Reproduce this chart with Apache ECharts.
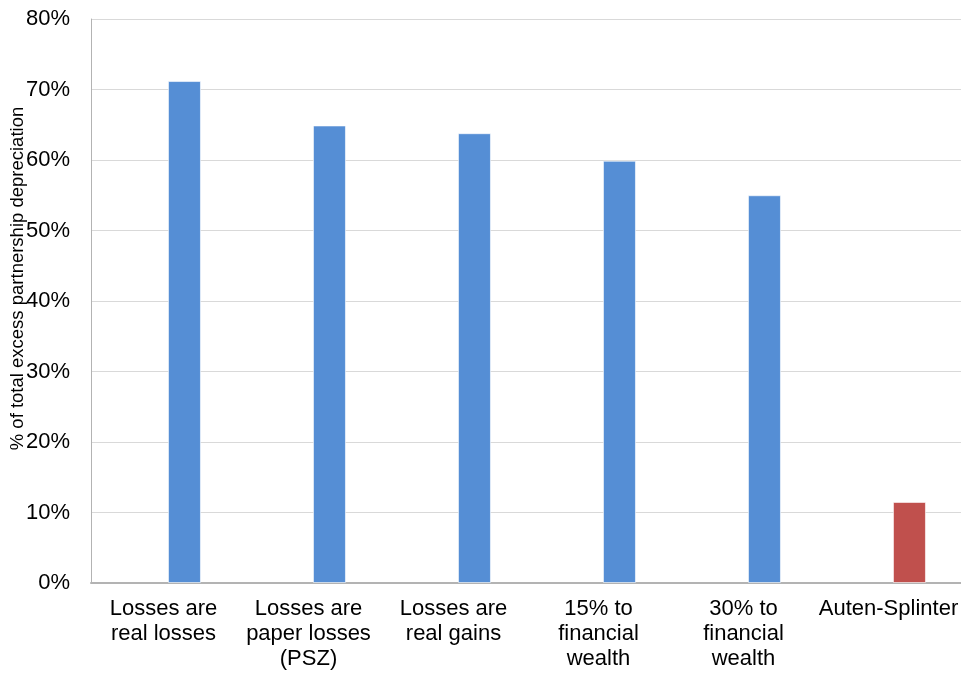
<!DOCTYPE html>
<html>
<head>
<meta charset="utf-8">
<script src="https://cdn.jsdelivr.net/npm/echarts@6/dist/echarts.min.js"></script>
<style>
  html, body { margin: 0; padding: 0; background: #fff; }
  #chart { width: 961px; height: 673px; }
</style>
</head>
<body>
<div id="chart"></div>
<script>
const categories = [
  "Losses are\nreal losses",
  "Losses are\npaper losses\n(PSZ)",
  "Losses are\nreal gains",
  "15% to\nfinancial\nwealth",
  "30% to\nfinancial\nwealth",
  "Auten-Splinter"
];
const shares = [71.2, 64.9, 63.8, 59.9, 55.0, 11.5];
const barColors = ["#558ed5", "#558ed5", "#558ed5", "#558ed5", "#558ed5", "#c0504d"];
const yTicks = [0, 10, 20, 30, 40, 50, 60, 70, 80];

const chart = echarts.init(document.getElementById("chart"), null, { renderer: "canvas" });

const font = "'Liberation Sans', Arial, sans-serif";

chart.setOption({
  animation: false,
  grid: {
    left: 91, right: 0, top: 19, bottom: 90,
    containLabel: false,
    outerBoundsMode: "none"
  },
  xAxis: {
    type: "category",
    data: categories,
    axisLine: { show: true, lineStyle: { color: "#b3b3b3", width: 2 } },
    axisTick: { show: false },
    axisLabel: {
      color: "#000",
      fontFamily: font,
      fontSize: 22,
      lineHeight: 25,
      margin: 13,
      interval: 0
    }
  },
  yAxis: {
    type: "value",
    min: yTicks[0],
    max: yTicks[yTicks.length - 1],
    interval: 10,
    name: "% of total excess partnership depreciation",
    nameLocation: "middle",
    nameGap: 64,
    nameMoveOverlap: false,
    nameTextStyle: {
      color: "#000",
      fontFamily: font,
      fontSize: 18.5,
      padding: [0, 0, 0, 45]
    },
    axisLine: { show: true, lineStyle: { color: "#b3b3b3", width: 1 } },
    axisTick: { show: false },
    axisLabel: {
      color: "#000",
      fontFamily: font,
      fontSize: 22,
      margin: 21,
      formatter: (v) => v + "%"
    },
    splitLine: { lineStyle: { color: "#d9d9d9", width: 1 } }
  },
  series: [
    {
      // empty slot so the bars sit right of the category centre
      type: "bar",
      data: categories.map(() => null),
      barWidth: 33,
      barGap: "27%"
    },
    {
      type: "bar",
      barWidth: 33,
      data: shares.map((v, i) => ({
        value: v,
        itemStyle: { color: barColors[i] }
      })),
      itemStyle: { borderColor: "rgba(255,255,255,0.6)", borderWidth: 1 }
    }
  ]
});
</script>
</body>
</html>
